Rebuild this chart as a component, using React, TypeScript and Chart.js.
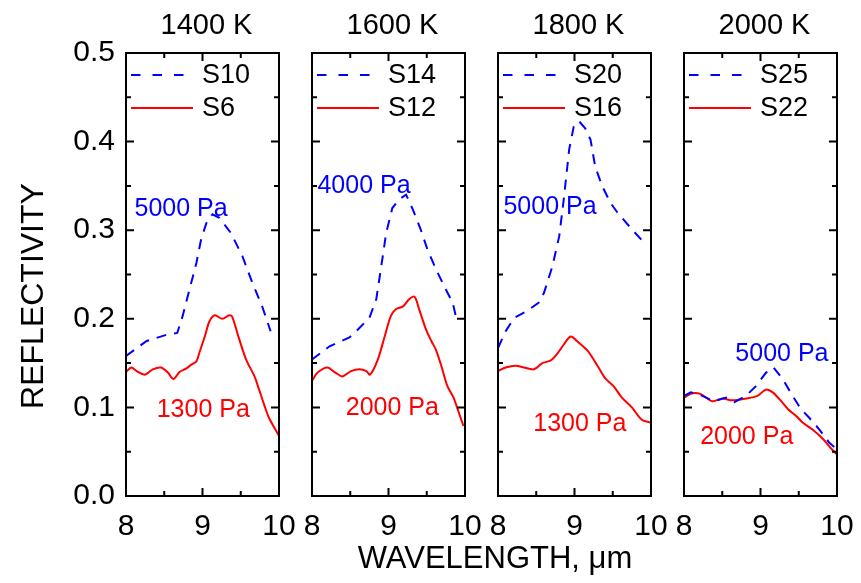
import React, { useEffect, useRef } from "react";
import { Chart, registerables } from "chart.js";

Chart.register(...registerables);

// ---------- data ----------
const panelTitles = ["1400 K", "1600 K", "1800 K", "2000 K"];
const dashedNames = ["S10", "S14", "S20", "S25"];
const solidNames = ["S6", "S12", "S16", "S22"];

const xMin = 8;
const xMax = 10;
const yMin = 0;
const yMax = 0.5;
const xMinorTicks = [8.5, 9.5];
const yMinorTicks = [0.05, 0.15, 0.25, 0.35, 0.45];

// Panel 1 (1400 K)
const s6X = [8.0, 8.07, 8.14, 8.25, 8.35, 8.46, 8.55, 8.62, 8.7, 8.79, 8.85, 8.92, 8.96, 9.03, 9.09, 9.16, 9.26, 9.35, 9.39, 9.48, 9.57, 9.68, 9.74, 9.81, 9.87, 10.0];
const s6Y = [0.14, 0.145, 0.141, 0.137, 0.143, 0.145, 0.139, 0.132, 0.14, 0.144, 0.148, 0.152, 0.162, 0.18, 0.197, 0.204, 0.2, 0.204, 0.202, 0.177, 0.154, 0.135, 0.12, 0.102, 0.088, 0.068];
const s10X = [8.0, 8.27, 8.53, 8.67, 8.74, 8.83, 8.92, 8.98, 9.05, 9.13, 9.22, 9.37, 9.52, 9.65, 9.78, 9.89];
const s10Y = [0.158, 0.175, 0.182, 0.184, 0.203, 0.233, 0.263, 0.289, 0.308, 0.318, 0.314, 0.297, 0.271, 0.241, 0.214, 0.186];

// Panel 2 (1600 K)
const s12X = [8.0, 8.07, 8.2, 8.31, 8.4, 8.51, 8.62, 8.71, 8.76, 8.86, 8.95, 9.03, 9.1, 9.19, 9.27, 9.34, 9.4, 9.49, 9.56, 9.62, 9.69, 9.77, 9.85, 9.92, 9.98];
const s12Y = [0.13, 0.139, 0.145, 0.139, 0.135, 0.141, 0.143, 0.141, 0.137, 0.154, 0.18, 0.203, 0.211, 0.214, 0.222, 0.225, 0.211, 0.188, 0.175, 0.165, 0.147, 0.124, 0.111, 0.094, 0.079];
const s14X = [8.0, 8.23, 8.49, 8.6, 8.75, 8.84, 8.9, 8.97, 9.05, 9.14, 9.23, 9.32, 9.42, 9.51, 9.62, 9.75, 9.84, 9.88];
const s14Y = [0.154, 0.169, 0.179, 0.188, 0.201, 0.222, 0.256, 0.297, 0.325, 0.335, 0.34, 0.323, 0.301, 0.278, 0.256, 0.233, 0.218, 0.203];

// Panel 3 (1800 K)
const s16X = [8.0, 8.1, 8.23, 8.34, 8.47, 8.58, 8.69, 8.77, 8.86, 8.95, 9.03, 9.17, 9.3, 9.4, 9.51, 9.62, 9.75, 9.88, 9.99];
const s16Y = [0.141, 0.145, 0.147, 0.145, 0.143, 0.15, 0.153, 0.16, 0.171, 0.18, 0.175, 0.164, 0.147, 0.133, 0.124, 0.111, 0.1, 0.086, 0.083];
const s20X = [8.0, 8.1, 8.21, 8.38, 8.53, 8.6, 8.71, 8.8, 8.86, 8.93, 8.99, 9.06, 9.14, 9.21, 9.27, 9.36, 9.47, 9.56, 9.75, 9.93];
const s20Y = [0.167, 0.186, 0.201, 0.209, 0.218, 0.229, 0.259, 0.293, 0.335, 0.391, 0.417, 0.423, 0.415, 0.402, 0.372, 0.35, 0.331, 0.32, 0.301, 0.284];

// Panel 4 (2000 K)
const s22X = [8.0, 8.11, 8.22, 8.37, 8.5, 8.63, 8.81, 8.96, 9.07, 9.16, 9.25, 9.36, 9.47, 9.55, 9.68, 9.82, 9.93, 10.0];
const s22Y = [0.111, 0.116, 0.115, 0.107, 0.11, 0.108, 0.11, 0.113, 0.12, 0.117, 0.109, 0.098, 0.09, 0.083, 0.075, 0.064, 0.053, 0.047];
const s25X = [8.0, 8.09, 8.24, 8.39, 8.55, 8.66, 8.81, 8.94, 9.07, 9.17, 9.29, 9.42, 9.53, 9.64, 9.77, 9.9, 9.97];
const s25Y = [0.113, 0.117, 0.113, 0.107, 0.111, 0.106, 0.113, 0.124, 0.139, 0.145, 0.132, 0.113, 0.098, 0.088, 0.075, 0.06, 0.055];

// Annotations per panel
const dashedNotes = ["5000 Pa", "4000 Pa", "5000 Pa", "5000 Pa"];
const dashedNoteX = [8.72, 8.68, 8.68, 9.28];
const dashedNoteY = [0.324, 0.350, 0.326, 0.160];
const solidNotes = ["1300 Pa", "2000 Pa", "1300 Pa", "2000 Pa"];
const solidNoteX = [9.01, 9.05, 9.07, 8.82];
const solidNoteY = [0.097, 0.099, 0.081, 0.067];

const yTitle = "REFLECTIVITY";
const xTitle = "WAVELENGTH, \u03bcm";

// ---------- style ----------
const FONT = '"Liberation Sans", Arial, Helvetica, sans-serif';
const BLUE = "#0000ff";
const RED = "#ff0000";
const DASH = [10, 8];
const W = 861;
const H = 583;

const panelIds = ["x1", "x2", "x3", "x4"];
const dashedSeries = [
  [s10X, s10Y],
  [s14X, s14Y],
  [s20X, s20Y],
  [s25X, s25Y],
];
const solidSeries = [
  [s6X, s6Y],
  [s12X, s12Y],
  [s16X, s16Y],
  [s22X, s22Y],
];

const toPoints = (xs: number[], ys: number[]) => xs.map((x, i) => ({ x, y: ys[i] }));

const decorPlugin = {
  id: "decor",
  afterDatasetsDraw(chart: any) {
    const { ctx, chartArea } = chart;
    const ys = chart.scales.y;
    const T = chartArea.top;
    const B = chartArea.bottom;
    ctx.save();
    panelIds.forEach((id, i) => {
      const xs = chart.scales[id];
      const L = xs.left;
      const R = xs.right;
      // ticks
      ctx.strokeStyle = "#000";
      ctx.lineWidth = 2;
      ctx.setLineDash([]);
      ctx.beginPath();
      ys.ticks.forEach((t: any) => {
        const p = ys.getPixelForValue(t.value);
        ctx.moveTo(L, p);
        ctx.lineTo(L + 8, p);
        ctx.moveTo(R, p);
        ctx.lineTo(R - 8, p);
      });
      yMinorTicks.forEach((v) => {
        const p = ys.getPixelForValue(v);
        ctx.moveTo(L, p);
        ctx.lineTo(L + 5, p);
        ctx.moveTo(R, p);
        ctx.lineTo(R - 5, p);
      });
      xs.ticks.forEach((t: any) => {
        const p = xs.getPixelForValue(t.value);
        ctx.moveTo(p, B);
        ctx.lineTo(p, B - 8);
        ctx.moveTo(p, T);
        ctx.lineTo(p, T + 8);
      });
      xMinorTicks.forEach((v) => {
        const p = xs.getPixelForValue(v);
        ctx.moveTo(p, B);
        ctx.lineTo(p, B - 5);
        ctx.moveTo(p, T);
        ctx.lineTo(p, T + 5);
      });
      ctx.stroke();
      ctx.strokeRect(L, T, R - L, B - T);

      // panel title
      ctx.fillStyle = "#000";
      ctx.font = `29px ${FONT}`;
      ctx.textAlign = "center";
      ctx.textBaseline = "middle";
      ctx.fillText(panelTitles[i], (L + R) / 2 + 4, 26);

      // legend
      const r1 = T + 22;
      const r2 = T + 55;
      ctx.lineWidth = 2;
      ctx.strokeStyle = BLUE;
      ctx.setLineDash([9.5, 12]);
      ctx.beginPath();
      ctx.moveTo(L + 5, r1);
      ctx.lineTo(L + 58, r1);
      ctx.stroke();
      ctx.strokeStyle = RED;
      ctx.setLineDash([]);
      ctx.beginPath();
      ctx.moveTo(L + 5, r2);
      ctx.lineTo(L + 67, r2);
      ctx.stroke();
      ctx.font = `27px ${FONT}`;
      ctx.textAlign = "left";
      ctx.fillStyle = "#000";
      ctx.fillText(dashedNames[i], L + 76, r1 + 1);
      ctx.fillText(solidNames[i], L + 76, r2 + 1);

      // annotations
      ctx.font = `25px ${FONT}`;
      ctx.textAlign = "center";
      ctx.fillStyle = BLUE;
      ctx.fillText(dashedNotes[i], xs.getPixelForValue(dashedNoteX[i]), ys.getPixelForValue(dashedNoteY[i]));
      ctx.fillStyle = RED;
      ctx.fillText(solidNotes[i], xs.getPixelForValue(solidNoteX[i]), ys.getPixelForValue(solidNoteY[i]));
    });

    // axis titles
    ctx.fillStyle = "#000";
    ctx.textAlign = "center";
    ctx.textBaseline = "middle";
    ctx.font = `31px ${FONT}`;
    ctx.fillText(xTitle, 495, 559);
    ctx.save();
    ctx.translate(34, 296);
    ctx.rotate(-Math.PI / 2);
    ctx.font = `32px ${FONT}`;
    ctx.fillText(yTitle, 0, 0);
    ctx.restore();
    ctx.restore();
  },
};

export default function App() {
  const ref = useRef<HTMLCanvasElement | null>(null);

  useEffect(() => {
    document.body.style.margin = "0";
    const datasets: any[] = [];
    panelIds.forEach((id, i) => {
      datasets.push({
        label: dashedNames[i],
        data: toPoints(dashedSeries[i][0], dashedSeries[i][1]),
        xAxisID: id,
        yAxisID: "y",
        borderColor: BLUE,
        borderWidth: 2,
        borderDash: DASH,
        pointRadius: 0,
        tension: 0,
        fill: false,
      });
      datasets.push({
        label: solidNames[i],
        data: toPoints(solidSeries[i][0], solidSeries[i][1]),
        xAxisID: id,
        yAxisID: "y",
        borderColor: RED,
        borderWidth: 2,
        pointRadius: 0,
        tension: 0.3,
        fill: false,
      });
    });

    const fixBox = (s: any) => {
      s.height = 87;
      s.paddingLeft = 0;
      s.paddingRight = 0;
      s.paddingTop = 0;
      s.paddingBottom = 0;
    };

    const panelScale = (w: number) => ({
      type: "linear",
      position: "bottom",
      stack: "row",
      stackWeight: 153,
      weight: w,
      min: xMin,
      max: xMax,
      grid: { display: false, drawTicks: false },
      border: { display: false },
      ticks: {
        stepSize: 1,
        autoSkip: false,
        maxRotation: 0,
        padding: 13,
        color: "#000",
        font: { family: FONT, size: 30 },
        callback: (v: any) => String(v),
      },
      afterFit: fixBox,
    });
    const gapScale = (w: number) => ({
      type: "linear",
      position: "bottom",
      stack: "row",
      stackWeight: 33,
      weight: w,
      display: true,
      grid: { display: false, drawTicks: false },
      border: { display: false },
      ticks: { display: false },
      afterFit: fixBox,
    });

    const chart = new Chart(ref.current as HTMLCanvasElement, {
      type: "line",
      data: { datasets },
      options: {
        animation: false,
        responsive: false,
        devicePixelRatio: 1,
        layout: { padding: { top: 53, left: 0, right: 24, bottom: 0 } },
        plugins: { legend: { display: false }, tooltip: { enabled: false }, title: { display: false } },
        elements: { point: { radius: 0 } },
        scales: {
          x1: panelScale(1),
          g1: gapScale(2),
          x2: panelScale(3),
          g2: gapScale(4),
          x3: panelScale(5),
          g3: gapScale(6),
          x4: panelScale(7),
          y: {
            type: "linear",
            position: "left",
            min: yMin,
            max: yMax,
            grid: { display: false, drawTicks: false },
            border: { display: false },
            ticks: {
              stepSize: 0.1,
              padding: 11,
              color: "#000",
              font: { family: FONT, size: 30 },
              callback: (v: any) => Number(v).toFixed(1),
            },
            afterFit: (s: any) => {
              s.width = 126;
              s.paddingTop = 0;
              s.paddingBottom = 0;
            },
          },
        } as any,
      },
      plugins: [decorPlugin],
    } as any);
    return () => chart.destroy();
  }, []);

  return (
    <div style={{ position: "absolute", left: 0, top: 0, width: W, height: H, background: "#fff" }}>
      <canvas ref={ref} width={W} height={H} style={{ width: W, height: H, display: "block" }} />
    </div>
  );
}
